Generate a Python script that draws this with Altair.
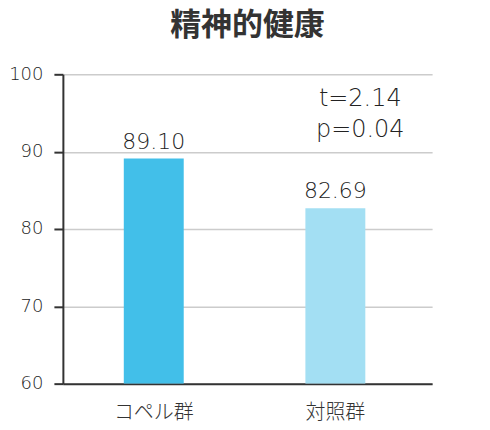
import altair as alt
import pandas as pd

groups = ["コペル群", "対照群"]
values = [89.10, 82.69]
labels = ["89.10", "82.69"]
colors = ["#42BFE9", "#A3DFF3"]
stat_lines = ["t=2.14", "p=0.04"]
stat_y = [95.9, 91.9]

df = pd.DataFrame({"group": groups, "value": values, "label": labels})
stats = pd.DataFrame({"group": ["対照群", "対照群"], "y": stat_y, "text": stat_lines})

FONT = "Noto Sans CJK JP"
NUM = "DejaVu Sans"

x_scale = alt.Scale(paddingInner=0.67, paddingOuter=0.3516, align=0.477)

x_enc = alt.X("group:N", sort=groups, title=None, scale=x_scale,
              axis=alt.Axis(labelAngle=0, labelFontSize=20, labelColor="#333",
                            labelFont=FONT, labelFontWeight=300, ticks=False,
                            domainColor="#333", domainWidth=2, labelPadding=19))
y_scale = alt.Scale(domain=[60, 100], nice=False, zero=False)

bars = alt.Chart(df).mark_bar(clip=True).encode(
    x=x_enc,
    y=alt.Y("value:Q", scale=y_scale, title=None,
            axis=alt.Axis(values=[60, 70, 80, 90, 100], labelFontSize=18,
                          labelColor="#222", labelFont=NUM, labelFontWeight=200,
                          tickColor="#333", tickSize=9, tickWidth=2,
                          domainColor="#333", domainWidth=2,
                          gridColor="#cccccc", gridWidth=1.5, labelPadding=11)),
    y2=alt.datum(60),
    color=alt.Color("group:N", scale=alt.Scale(domain=groups, range=colors), legend=None),
)

text = alt.Chart(df).mark_text(fontSize=22, font=NUM, fontWeight=200, color="#222",
                               baseline="alphabetic", dy=-10).encode(
    x=alt.X("group:N", sort=groups, scale=x_scale),
    y=alt.Y("value:Q", scale=y_scale),
    text="label:N",
)

stat_text = alt.Chart(stats).mark_text(fontSize=24, font=NUM, fontWeight=200, color="#222",
                                       baseline="alphabetic", dx=25).encode(
    x=alt.X("group:N", sort=groups, scale=x_scale),
    y=alt.Y("y:Q", scale=y_scale),
    text="text:N",
)

chart = alt.layer(bars, text, stat_text).properties(
    width=370, height=310,
    autosize=alt.AutoSizeParams(type="none"),
    padding={"left": 55, "top": 66, "right": 50, "bottom": 44},
    title=alt.TitleParams("精神的健康", fontSize=31, font=FONT, fontWeight="bold",
                          color="#333", anchor="middle", offset=23),
).configure_view(stroke=None)

chart.save("out.html", embed_options={"renderer": "svg", "actions": False})
